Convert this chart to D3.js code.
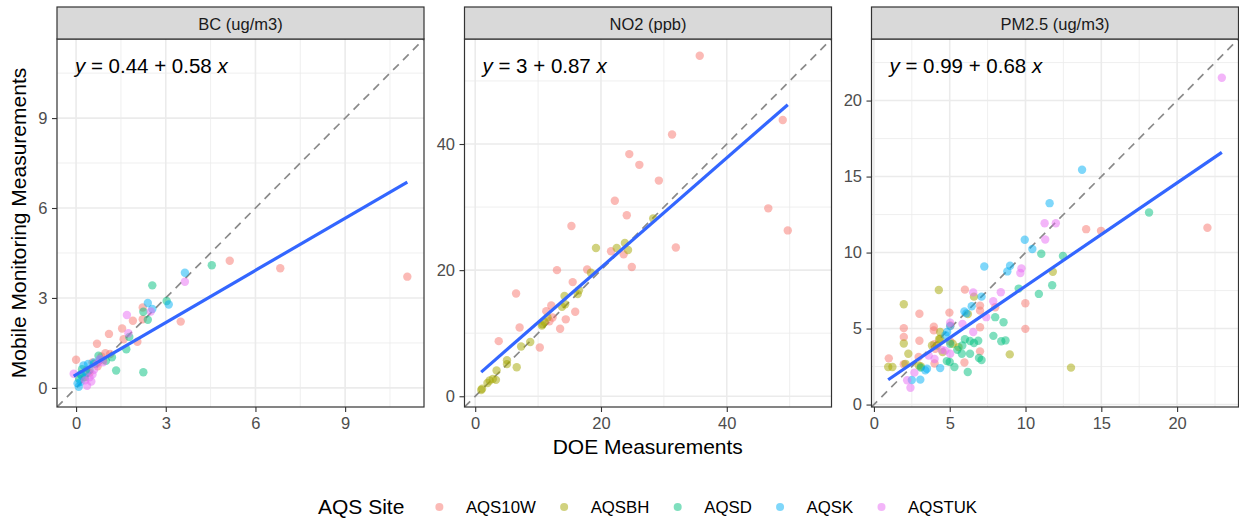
<!DOCTYPE html>
<html>
<head>
<meta charset="utf-8">
<script src="https://cdn.jsdelivr.net/npm/d3@7"></script>
<style>
  body { margin: 0; background: #fff; }
  svg text { font-family: "Liberation Sans", Arial, Helvetica, sans-serif; }
</style>
</head>
<body>
<svg id="chart" width="1239" height="518"></svg>
<script>
// ---- data ----
const facets = ["BC (ug/m3)", "NO2 (ppb)", "PM2.5 (ug/m3)"];
const sites = ["AQS10W", "AQSBH", "AQSD", "AQSK", "AQSTUK"];
const siteColors = ["#F8766D", "#A3A500", "#00BF7D", "#00B0F6", "#E76BF3"];
const fitIntercepts = [0.44, 3, 0.99];
const fitSlopes = [0.58, 0.87, 0.68];
const majorTicks = [[0, 3, 6, 9], [0, 20, 40], [0, 5, 10, 15, 20]];

// [site, DOE measurement, mobile measurement]
const bcPoints = [
  ["AQS10W", 11.08, 3.71], ["AQS10W", 6.83, 3.99], ["AQS10W", 5.14, 4.24], ["AQS10W", 3.5, 2.21],
  ["AQS10W", 2.23, 2.68], ["AQS10W", 2.23, 2.29], ["AQS10W", 1.9, 2.24], ["AQS10W", 1.54, 1.98],
  ["AQS10W", 1.59, 1.62], ["AQS10W", 2.05, 1.54], ["AQS10W", 1.1, 1.8], ["AQS10W", 0.7, 1.47],
  ["AQS10W", 0, 0.94], ["AQS10W", 0.98, 1.16], ["AQS10W", 1.14, 1.13], ["AQS10W", 0.85, 1.05],
  ["AQS10W", 0.55, 0.85], ["AQS10W", 0.35, 0.6], ["AQS10W", 0.72, 0.72], ["AQS10W", 0.45, 0.5],
  ["AQS10W", 0.25, 0.35], ["AQS10W", 0.9, 0.92],
  ["AQSD", 4.54, 4.09], ["AQSD", 2.55, 3.42], ["AQSD", 3.03, 2.9], ["AQSD", 2.25, 2.54],
  ["AQSD", 2.4, 2.27], ["AQSD", 1.78, 1.7], ["AQSD", 1.68, 1.29], ["AQSD", 1.34, 0.58],
  ["AQSD", 2.25, 0.52], ["AQSD", 0.75, 1.07], ["AQSD", 1.2, 1.02], ["AQSD", 0.2, 0.62],
  ["AQSD", 0.3, 0.35], ["AQSD", 0.15, 0.45], ["AQSD", 0.6, 0.8], ["AQSD", 1.0, 0.9],
  ["AQSD", 0.45, 0.6], ["AQSD", 0.1, 0.3],
  ["AQSK", 3.64, 3.84], ["AQSK", 3.1, 2.78], ["AQSK", 2.4, 2.83], ["AQSK", 2.55, 2.63],
  ["AQSK", 0.4, 0.8], ["AQSK", 0.25, 0.75], ["AQSK", 0.09, 0.04], ["AQSK", 0.15, 0.2],
  ["AQSK", 0.2, 0.4], ["AQSK", 0.6, 0.85], ["AQSK", 0.8, 0.95], ["AQSK", 0.35, 0.5],
  ["AQSK", 0.05, 0.15],
  ["AQSTUK", 3.64, 3.54], ["AQSTUK", 2.5, 2.55], ["AQSTUK", 1.7, 2.43], ["AQSTUK", 1.75, 1.82],
  ["AQSTUK", -0.08, 0.47], ["AQSTUK", 0.37, 0.07], ["AQSTUK", 0.51, 0.21], ["AQSTUK", 0.8, 0.96],
  ["AQSTUK", 0.6, 0.6], ["AQSTUK", 0.3, 0.25], ["AQSTUK", 0.7, 0.8], ["AQSTUK", 0.45, 0.35],
  ["AQSTUK", 0.9, 0.85], ["AQSTUK", 0.55, 0.45]
];

const no2Points = [
  ["AQS10W", 35.7, 54.0], ["AQS10W", 48.9, 43.8], ["AQS10W", 31.3, 41.5], ["AQS10W", 24.5, 38.4],
  ["AQS10W", 26.1, 36.7], ["AQS10W", 29.2, 34.2], ["AQS10W", 22.2, 31.0], ["AQS10W", 46.6, 29.8],
  ["AQS10W", 49.7, 26.3], ["AQS10W", 15.3, 27.0], ["AQS10W", 24.1, 28.7], ["AQS10W", 31.9, 23.6],
  ["AQS10W", 21.6, 23.0], ["AQS10W", 23.6, 22.5], ["AQS10W", 24.9, 20.5], ["AQS10W", 13.0, 20.0],
  ["AQS10W", 17.8, 20.1], ["AQS10W", 15.5, 18.1], ["AQS10W", 6.5, 16.3], ["AQS10W", 12.1, 14.4],
  ["AQS10W", 11.3, 13.5], ["AQS10W", 15.9, 13.4], ["AQS10W", 12.3, 12.5], ["AQS10W", 11.8, 11.9],
  ["AQS10W", 14.4, 12.2], ["AQS10W", 13.5, 10.7], ["AQS10W", 7.06, 10.9], ["AQS10W", 3.74, 8.74],
  ["AQS10W", 10.27, 7.74],
  ["AQSBH", 19.2, 23.5], ["AQSBH", 22.5, 23.5], ["AQSBH", 23.8, 24.3], ["AQSBH", 24.3, 23.2],
  ["AQSBH", 18.4, 19.6], ["AQSBH", 16.3, 16.2], ["AQSBH", 14.2, 15.9], ["AQSBH", 14.3, 14.6],
  ["AQSBH", 13.8, 14.2], ["AQSBH", 11.5, 12.5], ["AQSBH", 10.7, 11.4], ["AQSBH", 10.6, 11.2],
  ["AQSBH", 11.0, 11.8], ["AQSBH", 8.75, 8.6], ["AQSBH", 7.3, 7.9], ["AQSBH", 5.05, 5.7],
  ["AQSBH", 5.05, 5.1], ["AQSBH", 6.6, 4.6], ["AQSBH", 3.4, 4.1], ["AQSBH", 3.3, 2.6],
  ["AQSBH", 2.8, 2.75], ["AQSBH", 2.3, 2.5], ["AQSBH", 1.95, 2.1], ["AQSBH", 1.1, 1.2],
  ["AQSBH", 0.95, 1.0], ["AQSBH", 28.3, 28.2], ["AQSBH", 16.5, 16.8]
];

const pm25Points = [
  ["AQS10W", 22.0, 11.63], ["AQS10W", 14.0, 11.54], ["AQS10W", 14.98, 11.43], ["AQS10W", 9.99, 6.67],
  ["AQS10W", 9.99, 4.98], ["AQS10W", 8.0, 6.4], ["AQS10W", 6.0, 7.56], ["AQS10W", 7.0, 6.51],
  ["AQS10W", 7.0, 6.18], ["AQS10W", 7.0, 5.09], ["AQS10W", 7.0, 3.5], ["AQS10W", 4.98, 6.05],
  ["AQS10W", 3.0, 5.97], ["AQS10W", 3.95, 5.12], ["AQS10W", 3.95, 4.88], ["AQS10W", 1.97, 5.03],
  ["AQS10W", 1.97, 4.45], ["AQS10W", 3.0, 4.2], ["AQS10W", 0.98, 3.04], ["AQS10W", 1.97, 2.65],
  ["AQS10W", 2.95, 3.13], ["AQS10W", 4.0, 2.7], ["AQS10W", 5.97, 2.77], ["AQS10W", 5.03, 4.15],
  ["AQS10W", 3.98, 3.97], ["AQS10W", 4.05, 3.67], ["AQS10W", 5.05, 5.2],
  ["AQSBH", 11.8, 8.74], ["AQSBH", 13.0, 2.43], ["AQSBH", 8.96, 3.3], ["AQSBH", 4.28, 7.54],
  ["AQSBH", 1.97, 6.6], ["AQSBH", 6.6, 7.1], ["AQSBH", 6.2, 5.95], ["AQSBH", 1.97, 4.02],
  ["AQSBH", 2.27, 3.34], ["AQSBH", 0.94, 2.47], ["AQSBH", 1.22, 2.47], ["AQSBH", 2.08, 2.68],
  ["AQSBH", 2.95, 2.58], ["AQSBH", 4.37, 4.77], ["AQSBH", 4.37, 4.33], ["AQSBH", 4.53, 3.45],
  ["AQSBH", 4.16, 3.89], ["AQSBH", 3.83, 3.89], ["AQSBH", 5.58, 3.78], ["AQSBH", 4.3, 4.3],
  ["AQSBH", 3.1, 2.5], ["AQSBH", 5.2, 4.0],
  ["AQSD", 18.15, 12.64], ["AQSD", 11.04, 9.92], ["AQSD", 12.47, 9.77], ["AQSD", 11.76, 7.85],
  ["AQSD", 10.88, 7.28], ["AQSD", 9.55, 7.63], ["AQSD", 8.0, 5.75], ["AQSD", 8.55, 5.42],
  ["AQSD", 7.88, 4.52], ["AQSD", 8.4, 4.17], ["AQSD", 8.68, 4.22], ["AQSD", 6.93, 3.06],
  ["AQSD", 7.1, 2.93], ["AQSD", 6.34, 4.18], ["AQSD", 6.6, 4.05], ["AQSD", 6.88, 4.2],
  ["AQSD", 6.34, 3.34], ["AQSD", 6.19, 2.14], ["AQSD", 5.31, 2.47], ["AQSD", 5.8, 3.34],
  ["AQSD", 5.83, 3.89], ["AQSD", 4.81, 2.86], ["AQSD", 5.0, 2.8], ["AQSD", 5.03, 4.0],
  ["AQSD", 6.0, 4.3], ["AQSD", 3.09, 2.43], ["AQSD", 5.5, 3.6],
  ["AQSK", 13.73, 15.45], ["AQSK", 11.59, 13.25], ["AQSK", 9.95, 10.84], ["AQSK", 10.45, 10.23],
  ["AQSK", 8.98, 9.13], ["AQSK", 8.8, 8.76], ["AQSK", 7.28, 9.08], ["AQSK", 7.1, 7.1],
  ["AQSK", 5.97, 6.12], ["AQSK", 6.45, 6.47], ["AQSK", 5.03, 5.16], ["AQSK", 4.83, 4.77],
  ["AQSK", 4.72, 4.57], ["AQSK", 4.37, 2.4], ["AQSK", 3.39, 2.25], ["AQSK", 3.5, 2.36],
  ["AQSK", 3.06, 1.64], ["AQSK", 2.5, 1.62], ["AQSK", 6.1, 6.0],
  ["AQSTUK", 22.95, 21.5], ["AQSTUK", 11.26, 11.93], ["AQSTUK", 12.0, 11.93], ["AQSTUK", 11.3, 10.86],
  ["AQSTUK", 9.73, 8.96], ["AQSTUK", 9.66, 8.66], ["AQSTUK", 8.37, 7.39], ["AQSTUK", 7.87, 6.8],
  ["AQSTUK", 7.41, 5.75], ["AQSTUK", 6.55, 7.38], ["AQSTUK", 5.84, 5.31], ["AQSTUK", 6.55, 4.77],
  ["AQSTUK", 5.03, 5.38], ["AQSTUK", 5.03, 3.34], ["AQSTUK", 4.46, 3.6], ["AQSTUK", 3.61, 3.23],
  ["AQSTUK", 2.41, 1.11], ["AQSTUK", 2.19, 1.6], ["AQSTUK", 2.67, 2.1], ["AQSTUK", 4.0, 3.0],
  ["AQSTUK", 4.7, 3.55]
];

const facetPoints = [bcPoints, no2Points, pm25Points];

// ---- layout ----
const svg = d3.select("#chart");
const panelLefts = [57, 464.5, 871.5];
const panelW = 367;
const panelTop = 39, panelBottom = 407, stripTop = 7;
const color = d3.scaleOrdinal().domain(sites).range(siteColors);
const gridCol = "#EBEBEB", inkCol = "#333333", tickTextCol = "#4D4D4D";

facets.forEach((name, i) => {
  const pts = facetPoints[i];
  const left = panelLefts[i], right = left + panelW;
  const all = pts.flatMap(d => [d[1], d[2]]);
  const [lo, hi] = d3.extent(all);
  const pad = (hi - lo) * 0.05;
  const dom = [lo - pad, hi + pad];
  const x = d3.scaleLinear().domain(dom).range([left, right]);
  const y = d3.scaleLinear().domain(dom).range([panelBottom, panelTop]);

  const g = svg.append("g");
  const clipId = "clip" + i;
  g.append("clipPath").attr("id", clipId)
    .append("rect").attr("x", left).attr("y", panelTop)
    .attr("width", panelW).attr("height", panelBottom - panelTop);

  const body = g.append("g").attr("clip-path", `url(#${clipId})`);

  // grid lines: minor halfway between majors, then majors
  const ticks = majorTicks[i];
  const step = ticks[1] - ticks[0];
  const minor = d3.range(ticks[0] - step / 2, dom[1], step).filter(v => v > dom[0]);
  body.selectAll(".minx").data(minor).join("line")
    .attr("x1", d => x(d)).attr("x2", d => x(d))
    .attr("y1", panelTop).attr("y2", panelBottom)
    .attr("stroke", gridCol).attr("stroke-width", 0.8);
  body.selectAll(".miny").data(minor).join("line")
    .attr("y1", d => y(d)).attr("y2", d => y(d))
    .attr("x1", left).attr("x2", right)
    .attr("stroke", gridCol).attr("stroke-width", 0.8);
  body.selectAll(".majx").data(ticks).join("line")
    .attr("x1", d => x(d)).attr("x2", d => x(d))
    .attr("y1", panelTop).attr("y2", panelBottom)
    .attr("stroke", gridCol).attr("stroke-width", 1.6);
  body.selectAll(".majy").data(ticks).join("line")
    .attr("y1", d => y(d)).attr("y2", d => y(d))
    .attr("x1", left).attr("x2", right)
    .attr("stroke", gridCol).attr("stroke-width", 1.6);

  // 1:1 reference line
  body.append("line")
    .attr("x1", x(dom[0])).attr("y1", y(dom[0]))
    .attr("x2", x(dom[1])).attr("y2", y(dom[1]))
    .attr("stroke", "#8A8A8A").attr("stroke-width", 1.7)
    .attr("stroke-dasharray", "8,6");

  // observations
  body.selectAll("circle").data(pts).join("circle")
    .attr("cx", d => x(d[1])).attr("cy", d => y(d[2]))
    .attr("r", 4.2)
    .attr("fill", d => color(d[0]))
    .attr("fill-opacity", 0.5);

  // linear fit across the range of DOE values
  const a = fitIntercepts[i], b = fitSlopes[i];
  const [xMin, xMax] = d3.extent(pts, d => d[1]);
  body.append("line")
    .attr("x1", x(xMin)).attr("y1", y(a + b * xMin))
    .attr("x2", x(xMax)).attr("y2", y(a + b * xMax))
    .attr("stroke", "#3366FF").attr("stroke-width", 3.2)
    .attr("stroke-linecap", "butt");

  // fitted equation
  const eq = g.append("text")
    .attr("x", left + 18).attr("y", 73)
    .attr("font-size", 20.5).attr("fill", "#000");
  eq.append("tspan").attr("font-style", "italic").text("y");
  eq.append("tspan").text(` = ${a} + ${b} `);
  eq.append("tspan").attr("font-style", "italic").text("x");

  // panel border
  g.append("rect")
    .attr("x", left).attr("y", panelTop)
    .attr("width", panelW).attr("height", panelBottom - panelTop)
    .attr("fill", "none").attr("stroke", inkCol).attr("stroke-width", 1.2);

  // facet strip
  g.append("rect")
    .attr("x", left).attr("y", stripTop)
    .attr("width", panelW).attr("height", panelTop - stripTop)
    .attr("fill", "#D9D9D9").attr("stroke", inkCol).attr("stroke-width", 1.2);
  g.append("text")
    .attr("x", left + panelW / 2).attr("y", 29.5)
    .attr("text-anchor", "middle").attr("font-size", 16.5)
    .attr("fill", "#1A1A1A").text(name);

  // axes
  const xAxis = g.append("g")
    .attr("transform", `translate(0,${panelBottom})`)
    .call(d3.axisBottom(x).tickValues(ticks).tickSize(5).tickPadding(5.5).tickFormat(d3.format("d")));
  const yAxis = g.append("g")
    .attr("transform", `translate(${left},0)`)
    .call(d3.axisLeft(y).tickValues(ticks).tickSize(5).tickPadding(4.5).tickFormat(d3.format("d")));
  [xAxis, yAxis].forEach(ax => {
    ax.select(".domain").remove();
    ax.selectAll(".tick line").attr("stroke", inkCol).attr("stroke-width", 1.1);
    ax.selectAll(".tick text")
      .attr("fill", tickTextCol).attr("font-size", 16.5)
      .attr("font-family", "Liberation Sans, Arial, sans-serif");
  });
});

// axis titles
svg.append("text")
  .attr("x", (panelLefts[0] + panelLefts[2] + panelW) / 2).attr("y", 454)
  .attr("text-anchor", "middle").attr("font-size", 21).attr("fill", "#000")
  .text("DOE Measurements");
svg.append("text")
  .attr("transform", `translate(26,${(panelTop + panelBottom) / 2}) rotate(-90)`)
  .attr("text-anchor", "middle").attr("font-size", 21).attr("fill", "#000")
  .text("Mobile Monitoring Measurements");

// legend
const legend = svg.append("g").attr("transform", "translate(318,0)");
const title = legend.append("text")
  .attr("x", 0).attr("y", 514).attr("font-size", 21).attr("fill", "#000")
  .text("AQS Site");
let cursor = title.node().getComputedTextLength() + 35;
sites.forEach(s => {
  legend.append("circle")
    .attr("cx", cursor).attr("cy", 507).attr("r", 4)
    .attr("fill", color(s)).attr("fill-opacity", 0.5);
  const t = legend.append("text")
    .attr("x", cursor + 26.5).attr("y", 513).attr("font-size", 16.8).attr("fill", "#000")
    .text(s);
  cursor += 26.5 + t.node().getComputedTextLength() + 28.3;
});
</script>
</body>
</html>
